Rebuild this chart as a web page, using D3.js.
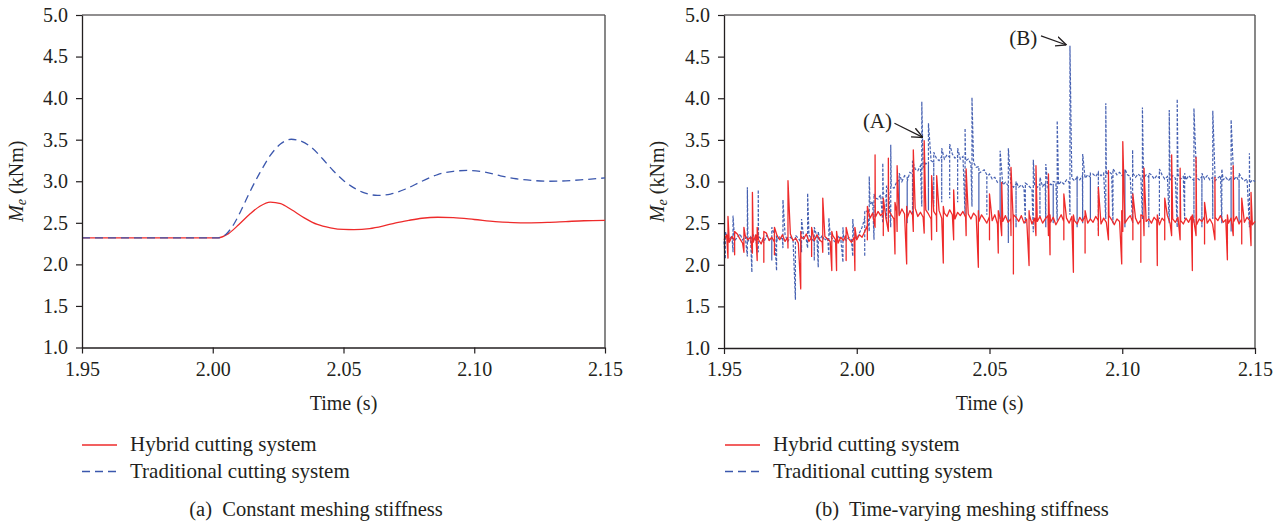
<!DOCTYPE html>
<html><head><meta charset="utf-8">
<script src="https://cdn.jsdelivr.net/npm/d3@7"></script>
<style>
body{margin:0;background:#fff}
text{font-family:"Liberation Serif","Times New Roman",serif;fill:#231f20}
</style>
</head><body>
<svg id="c" width="1283" height="527"></svg>
<script>
// ---------- data ----------
const xTicks = [1.95, 2.00, 2.05, 2.10, 2.15];
const yTicks = [1.0, 1.5, 2.0, 2.5, 3.0, 3.5, 4.0, 4.5, 5.0];
const seriesNames = ["Hybrid cutting system", "Traditional cutting system"];
const captions = ["(a)  Constant meshing stiffness", "(b)  Time-varying meshing stiffness"];
const xLabel = "Time (s)";

// (a) constant meshing stiffness  [time, Me]
const constHybrid = [[1.95,2.32],[2.000,2.32],[2.002,2.32],[2.006,2.37],[2.010,2.48],[2.014,2.60],[2.018,2.70],[2.022,2.75],[2.026,2.73],[2.030,2.66],[2.035,2.56],[2.040,2.48],[2.045,2.44],[2.050,2.42],[2.054,2.418],[2.060,2.43],[2.065,2.46],[2.070,2.50],[2.075,2.53],[2.080,2.555],[2.086,2.567],[2.092,2.562],[2.100,2.54],[2.108,2.515],[2.115,2.503],[2.120,2.50],[2.128,2.505],[2.135,2.515],[2.142,2.525],[2.150,2.53]];
const constTraditional = [[1.95,2.32],[2.000,2.32],[2.002,2.32],[2.005,2.36],[2.008,2.48],[2.011,2.66],[2.014,2.86],[2.018,3.10],[2.022,3.31],[2.026,3.45],[2.030,3.505],[2.034,3.48],[2.038,3.40],[2.042,3.27],[2.046,3.13],[2.050,3.01],[2.054,2.92],[2.058,2.86],[2.063,2.83],[2.068,2.845],[2.074,2.91],[2.080,3.00],[2.086,3.08],[2.092,3.12],[2.098,3.13],[2.104,3.11],[2.110,3.065],[2.116,3.03],[2.122,3.01],[2.128,3.00],[2.135,3.005],[2.142,3.02],[2.150,3.04]];

// (b) time-varying meshing stiffness: base trace sampled every 1 ms from 1.950 s
const tvStart = 1.95, tvStep = 0.001;
const tvHybrid = [
2.30,2.36,2.27,2.34,2.29,2.37,2.31,2.26,2.35,2.30,
2.33,2.27,2.36,2.30,2.25,2.34,2.38,2.29,2.33,2.27,
2.35,2.30,2.36,2.28,2.33,2.37,2.29,2.32,2.26,2.34,
2.31,2.37,2.28,2.33,2.29,2.36,2.30,2.27,2.34,2.31,
2.28,2.35,2.30,2.26,2.33,2.29,2.36,2.31,2.27,2.33,
2.30,2.36,2.33,2.40,2.47,2.56,2.62,2.57,2.64,2.59,
2.63,2.56,2.66,2.60,2.55,2.64,2.59,2.67,2.61,2.56,
2.65,2.60,2.68,2.58,2.63,2.57,2.66,2.61,2.55,2.64,
2.59,2.65,2.56,2.62,2.58,2.66,2.60,2.55,2.63,2.59,
2.64,2.57,2.61,2.55,2.62,2.58,2.52,2.60,2.55,2.50,
2.58,2.53,2.60,2.49,2.56,2.52,2.59,2.51,2.55,2.48,
2.57,2.52,2.59,2.50,2.55,2.60,2.49,2.56,2.52,2.58,
2.50,2.55,2.59,2.51,2.57,2.48,2.54,2.60,2.52,2.56,
2.50,2.58,2.53,2.49,2.57,2.52,2.59,2.50,2.55,2.51,
2.58,2.53,2.49,2.56,2.51,2.59,2.54,2.48,2.55,2.52,
2.57,2.50,2.55,2.59,2.51,2.56,2.49,2.54,2.58,2.52,
2.55,2.50,2.57,2.53,2.48,2.56,2.52,2.59,2.50,2.55,
2.51,2.57,2.53,2.49,2.56,2.51,2.58,2.52,2.48,2.55,
2.52,2.58,2.50,2.55,2.49,2.57,2.53,2.59,2.51,2.54,
2.50,2.56,2.52,2.58,2.49,2.55,2.51,2.57,2.53,2.48,
2.52];
const tvTraditional = [
2.28,2.34,2.30,2.35,2.29,2.33,2.37,2.30,2.34,2.28,
2.33,2.36,2.29,2.34,2.31,2.27,2.35,2.30,2.33,2.36,
2.29,2.34,2.31,2.36,2.28,2.33,2.30,2.35,2.32,2.27,
2.33,2.30,2.36,2.31,2.28,2.34,2.30,2.35,2.29,2.33,
2.36,2.30,2.27,2.34,2.31,2.35,2.29,2.33,2.30,2.34,
2.31,2.38,2.45,2.56,2.64,2.72,2.76,2.80,2.79,2.84,
2.86,2.83,2.90,2.94,2.92,2.99,3.02,3.00,3.07,3.05,
3.11,3.09,3.15,3.13,3.19,3.17,3.22,3.20,3.25,3.23,
3.28,3.25,3.30,3.27,3.32,3.29,3.33,3.28,3.31,3.27,
3.30,3.25,3.27,3.21,3.23,3.17,3.18,3.12,3.14,3.08,
3.09,3.03,3.05,2.99,3.01,2.96,2.99,2.95,2.98,2.93,
2.97,2.93,2.96,2.92,2.97,2.94,2.91,2.96,2.93,2.97,
2.94,2.98,2.93,2.97,2.95,2.99,2.96,3.00,2.97,3.02,
2.99,3.04,3.01,3.05,3.02,3.07,3.04,3.08,3.05,3.09,
3.06,3.11,3.07,3.10,3.08,3.12,3.09,3.13,3.08,3.11,
3.07,3.11,3.08,3.06,3.10,3.05,3.09,3.06,3.04,3.08,
3.05,3.08,3.03,3.07,3.04,3.08,3.03,3.06,3.02,3.07,
3.04,3.08,3.03,3.06,3.02,3.07,3.04,3.01,3.05,3.02,
3.06,3.03,3.07,3.02,3.05,3.01,3.04,3.07,3.02,3.05,
3.01,3.05,3.02,3.06,3.00,3.04,3.01,3.03,2.98,3.02,
3.00];
// spikes: [time, low, high]
const tvHybridSpikes = [
[1.9515,2.08,2.58],[1.9540,2.12,2.40],[1.9575,2.15,2.45],[1.9607,2.14,2.87],[1.9625,2.05,2.45],[1.9650,2.03,2.40],[1.9690,2.12,2.45],[1.9741,2.20,3.01],[1.9789,1.71,2.40],[1.9830,2.10,2.45],[1.9872,2.15,2.80],[1.9906,1.93,2.40],[1.9924,1.93,2.40],[1.9960,2.05,2.45],[1.9993,1.93,2.45],
[2.0040,2.30,2.70],[2.0069,2.45,3.32],[2.0100,2.35,2.80],[2.0119,2.40,3.28],[2.0144,2.13,2.75],[2.0152,2.40,3.19],[2.0188,2.01,2.70],[2.0213,2.40,3.38],[2.0254,2.38,3.49],[2.0282,2.30,3.07],[2.0301,2.40,3.07],[2.0326,2.02,2.70],[2.0365,2.30,2.90],[2.0412,2.35,3.15],[2.0458,1.97,2.65],[2.0500,2.30,2.85],[2.0533,2.14,2.65],[2.0546,2.35,2.99],[2.0581,2.35,3.17],[2.0590,1.89,2.60],[2.0649,1.99,2.65],[2.0675,2.35,3.19],[2.0722,2.35,3.09],[2.0728,2.12,2.60],[2.0780,2.30,2.85],[2.0816,1.91,2.60],[2.0860,2.14,2.65],[2.0910,2.35,2.93],[2.0948,2.30,3.13],[2.0998,2.01,2.65],[2.1002,2.40,3.48],[2.1040,2.30,2.85],[2.1070,2.03,2.60],[2.1082,2.35,3.16],[2.1132,1.99,2.60],[2.1160,2.30,2.80],[2.1186,2.35,3.32],[2.1218,2.30,3.16],[2.1264,1.93,2.60],[2.1278,2.35,3.29],[2.1310,2.25,2.75],[2.1349,2.30,3.05],[2.1396,2.06,2.60],[2.1418,2.35,3.19],[2.1450,2.25,2.80],[2.1485,2.23,2.87]];
const tvTraditionalSpikes = [
[1.9505,2.07,2.40],[1.9534,2.15,2.59],[1.9588,2.10,2.93],[1.9605,1.91,2.35],[1.9629,2.15,2.90],[1.9680,2.05,2.45],[1.9698,1.93,2.35],[1.9722,2.20,2.78],[1.9769,1.58,2.35],[1.9792,2.15,2.55],[1.9815,2.20,2.86],[1.9840,2.05,2.45],[1.9855,1.97,2.40],[1.9895,2.11,2.56],[1.9948,2.03,2.45],[1.9985,2.10,2.55],
[2.0030,2.10,2.65],[2.0047,2.40,3.06],[2.0065,2.30,2.85],[2.0098,2.50,3.22],[2.0112,2.55,2.95],[2.0128,2.45,3.44],[2.0160,2.60,3.10],[2.0190,2.50,3.00],[2.0210,2.60,3.25],[2.0245,2.70,3.96],[2.0270,2.65,3.70],[2.0290,2.70,3.35],[2.0320,2.75,3.40],[2.0350,2.80,3.45],[2.0380,2.75,3.40],[2.0408,2.60,3.64],[2.0434,2.70,4.01],[2.0460,2.55,3.10],[2.0490,2.60,3.05],
[2.0540,2.55,3.37],[2.0571,2.26,3.40],[2.0600,2.45,3.00],[2.0635,2.50,2.98],[2.0665,2.39,3.26],[2.0690,2.55,3.05],[2.0712,2.45,3.21],[2.0740,2.50,3.00],[2.0755,2.53,3.73],[2.0803,2.60,4.63],[2.0830,2.45,3.05],[2.0851,2.50,3.33],[2.0880,2.55,3.10],[2.0910,2.40,3.10],[2.0938,2.55,3.94],[2.0965,2.50,3.15],[2.1010,2.45,3.15],[2.1039,2.50,3.38],[2.1076,2.55,3.89],[2.1100,2.45,3.10],[2.1140,2.55,3.15],[2.1177,2.50,3.86],[2.1207,2.45,3.99],[2.1235,2.55,3.10],[2.1270,2.50,3.88],[2.1300,2.45,3.10],[2.1341,2.55,3.85],[2.1375,2.50,3.15],[2.1410,2.40,3.74],[2.1440,2.50,3.10],[2.1479,2.45,3.34]];
// annotations: label, text position [t, v], arrow start [t, v], arrow tip [t, v]
const annotations = [
  {label:"(A)", text:[2.0078,3.70], from:[2.0142,3.70], to:[2.0249,3.53]},
  {label:"(B)", text:[2.0627,4.70], from:[2.0694,4.75], to:[2.0790,4.64]}
];

// ---------- drawing ----------
const svg = d3.select("#c");
const RED = "#ee2b2b", BLUE = "#3b57ad", INK = "#231f20";
const SERIF = '"Liberation Serif","Times New Roman",serif';

svg.append("defs").append("marker")
  .attr("id","arr").attr("viewBox","0 0 10 10").attr("refX",10).attr("refY",5)
  .attr("markerWidth",9).attr("markerHeight",9).attr("orient","auto")
  .append("path").attr("d","M0,0.5 L10,5 L0,9.5").attr("fill","none")
  .attr("stroke",INK).attr("stroke-width",1.3);

const panels = [
  {x0:82, x1:605, y0:347.5, y1:15, ylabX:18, legX:82, capX:316},
  {x0:724, x1:1255, y0:348, y1:15, ylabX:659, legX:725, capX:962}
];

function buildTV(base, spikes){
  const pts = base.map((v,i)=>[tvStart + i*tvStep, v]);
  spikes.forEach(s=>{ pts.push([s[0], s[1]]); pts.push([s[0]+1e-6, s[2]]); });
  pts.sort((a,b)=>a[0]-b[0]);
  return pts;
}

panels.forEach((p, k)=>{
  const x = d3.scaleLinear().domain([1.95,2.15]).range([p.x0,p.x1]);
  const y = d3.scaleLinear().domain([1.0,5.0]).range([p.y0,p.y1]);
  const g = svg.append("g");

  // frame: top and right
  g.append("line").attr("x1",p.x0).attr("x2",p.x1).attr("y1",p.y1).attr("y2",p.y1)
    .attr("stroke",INK).attr("stroke-width",1.2);
  g.append("line").attr("x1",p.x1).attr("x2",p.x1).attr("y1",p.y1).attr("y2",p.y0)
    .attr("stroke","#555").attr("stroke-width",1.4);

  const line = d3.line().x(d=>x(d[0])).y(d=>y(d[1]));
  if(k===0){
    const sm = d3.line().x(d=>x(d[0])).y(d=>y(d[1])).curve(d3.curveMonotoneX);
    g.append("path").attr("d",sm(constHybrid)).attr("fill","none").attr("stroke",RED).attr("stroke-width",1.3);
    g.append("path").attr("d",sm(constTraditional)).attr("fill","none").attr("stroke",BLUE).attr("stroke-width",1.3).attr("stroke-dasharray","8,5");
  } else {
    g.append("path").attr("d",line(buildTV(tvTraditional,tvTraditionalSpikes))).attr("fill","none")
      .attr("stroke",BLUE).attr("stroke-width",1.2).attr("stroke-dasharray","3,1.6").attr("stroke-opacity",0.95);
    g.append("path").attr("d",line(buildTV(tvHybrid,tvHybridSpikes))).attr("fill","none")
      .attr("stroke",RED).attr("stroke-width",1.3).attr("stroke-linejoin","round");
    annotations.forEach(a=>{
      g.append("text").attr("x",x(a.text[0])).attr("y",y(a.text[1])).attr("text-anchor","middle")
        .attr("dominant-baseline","middle").style("font-size","21px").text(a.label);
      g.append("line").attr("x1",x(a.from[0])).attr("y1",y(a.from[1])).attr("x2",x(a.to[0])).attr("y2",y(a.to[1]))
        .attr("stroke",INK).attr("stroke-width",1.2).attr("marker-end","url(#arr)");
    });
  }

  // axes
  const ax = g.append("g").attr("transform",`translate(0,${p.y0})`)
    .call(d3.axisBottom(x).tickValues(xTicks).tickFormat(d3.format(".2f")).tickSize(6).tickSizeOuter(0).tickPadding(8));
  const ay = g.append("g").attr("transform",`translate(${p.x0},0)`)
    .call(d3.axisLeft(y).tickValues(yTicks).tickFormat(d3.format(".1f")).tickSize(6).tickSizeOuter(0).tickPadding(8));
  [ax,ay].forEach(a=>{
    a.attr("font-family",SERIF).attr("font-size",20);
    a.select(".domain").attr("stroke",INK).attr("stroke-width",1.3);
    a.selectAll(".tick line").attr("stroke",INK).attr("stroke-width",1.2);
    a.selectAll(".tick text").attr("font-family",SERIF).style("font-family",SERIF).style("font-size","20px").attr("fill",INK);
  });

  // x label
  g.append("text").attr("x",(p.x0+p.x1)/2).attr("y",410).attr("text-anchor","middle")
    .style("font-size","20px").text(xLabel);
  // y label
  const yl = g.append("text").attr("transform",`translate(${p.ylabX},${(p.y0+p.y1)/2}) rotate(-90)`)
    .attr("text-anchor","middle").attr("dominant-baseline","middle").style("font-size","20px");
  yl.append("tspan").style("font-style","italic").text("M");
  yl.append("tspan").style("font-style","italic").style("font-size","14px").attr("dy","5").text("e");
  yl.append("tspan").attr("dy","-5").text(" (kNm)");

  // legend
  const leg = [{c:RED, d:null, yy:445}, {c:BLUE, d:"8,5", yy:471.5}];
  leg.forEach((l,i)=>{
    g.append("line").attr("x1",p.legX).attr("x2",p.legX+35).attr("y1",l.yy).attr("y2",l.yy)
      .attr("stroke",l.c).attr("stroke-width",1.3).attr("stroke-dasharray",l.d);
    g.append("text").attr("x",p.legX+48).attr("y",l.yy+6).style("font-size","21px").text(seriesNames[i]);
  });

  // caption
  g.append("text").attr("x",p.capX).attr("y",516).attr("text-anchor","middle")
    .style("font-size","20.5px").attr("xml:space","preserve").style("white-space","pre").text(captions[k]);
});
</script>
</body></html>
